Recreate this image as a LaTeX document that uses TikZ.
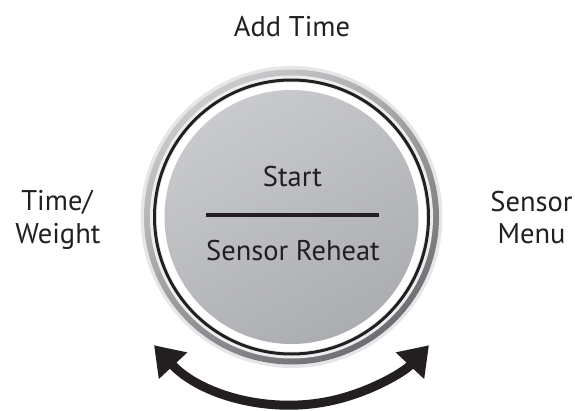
\documentclass[tikz,border=0pt]{standalone}
\usepackage{fontspec}
\setmainfont{PT Sans}
\usetikzlibrary{arrows.meta,calc}
\definecolor{ink}{HTML}{231F20}
\definecolor{ringlight}{HTML}{E6E6E8}
\definecolor{ringmid}{HTML}{A5A6A9}
\definecolor{ringdark}{HTML}{6E6F72}
\definecolor{disklight}{HTML}{C9CACD}
\definecolor{diskdark}{HTML}{ACADB0}
\tikzset{
  lbl/.style={text=ink, font=\fontsize{28.5}{33}\selectfont, inner sep=0pt, anchor=base},
  rotarrow/.style={draw=ink, line width=9pt, {Triangle[length=28pt,width=37pt]}-{Triangle[length=28pt,width=37pt]}}
}
\begin{document}
\begin{tikzpicture}[x=1pt,y=1pt]
\useasboundingbox (0,0) rectangle (575,410);
\coordinate (c) at (291.5,193);
% knob rings
\fill[ringlight] (c) circle[radius=151];
\shade[top color=ringmid!60, bottom color=ringdark, shading angle=35] (c) circle[radius=147.5];
\fill[ringlight!70] (c) circle[radius=141.5];
\draw[ink, line width=3pt] (c) circle[radius=137];
\fill[white] (c) circle[radius=134.5];
\shade[top color=disklight, bottom color=diskdark, shading angle=30] (c) circle[radius=127];
% divider
\coordinate (dl) at (206,195.3);
\coordinate (dr) at (379,195.3);
\draw[ink, line width=4pt] (dl) -- (dr);
% labels
\node[lbl] (start) at (292.5,223.3) {Start};
\node[lbl] (reheat) at (293,150) {Sensor Reheat};
\node[lbl] (addtime) at (292,373) {Add Time};
\node[lbl] (time) at (57,200) {Time/};
\node[lbl] (weight) at (58,167) {Weight};
\node[lbl] (sensor) at (531.5,198.3) {Sensor};
\node[lbl] (menu) at (531.5,167) {Menu};
% rotation arrow
\coordinate (as) at ($(c)+(223:188)$);
\draw[rotarrow] (as) arc[start angle=223, end angle=317, radius=188];
\end{tikzpicture}
\end{document}
